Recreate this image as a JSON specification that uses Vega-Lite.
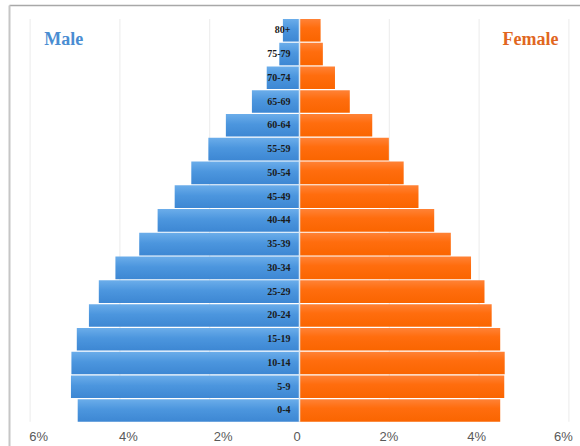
{
  "$schema": "https://vega.github.io/schema/vega-lite/v6.json",
  "width": 571,
  "height": 441,
  "padding": {"left": 9, "top": 5, "right": 0, "bottom": 0},
  "autosize": {"type": "none"},
  "background": "#ffffff",
  "config": {"view": {"stroke": null}},
  "datasets": {
    "pyramid": [
      {"age": "80+", "sex": "Male", "share": -0.37},
      {"age": "75-79", "sex": "Male", "share": -0.45},
      {"age": "70-74", "sex": "Male", "share": -0.73},
      {"age": "65-69", "sex": "Male", "share": -1.06},
      {"age": "60-64", "sex": "Male", "share": -1.64},
      {"age": "55-59", "sex": "Male", "share": -2.03},
      {"age": "50-54", "sex": "Male", "share": -2.41},
      {"age": "45-49", "sex": "Male", "share": -2.78},
      {"age": "40-44", "sex": "Male", "share": -3.16},
      {"age": "35-39", "sex": "Male", "share": -3.57},
      {"age": "30-34", "sex": "Male", "share": -4.10},
      {"age": "25-29", "sex": "Male", "share": -4.47},
      {"age": "20-24", "sex": "Male", "share": -4.69},
      {"age": "15-19", "sex": "Male", "share": -4.96},
      {"age": "10-14", "sex": "Male", "share": -5.08},
      {"age": "5-9", "sex": "Male", "share": -5.09},
      {"age": "0-4", "sex": "Male", "share": -4.94},
      {"age": "80+", "sex": "Female", "share": 0.47},
      {"age": "75-79", "sex": "Female", "share": 0.52},
      {"age": "70-74", "sex": "Female", "share": 0.79},
      {"age": "65-69", "sex": "Female", "share": 1.12},
      {"age": "60-64", "sex": "Female", "share": 1.62},
      {"age": "55-59", "sex": "Female", "share": 1.99},
      {"age": "50-54", "sex": "Female", "share": 2.32},
      {"age": "45-49", "sex": "Female", "share": 2.65},
      {"age": "40-44", "sex": "Female", "share": 3.00},
      {"age": "35-39", "sex": "Female", "share": 3.37},
      {"age": "30-34", "sex": "Female", "share": 3.82},
      {"age": "25-29", "sex": "Female", "share": 4.12},
      {"age": "20-24", "sex": "Female", "share": 4.28},
      {"age": "15-19", "sex": "Female", "share": 4.47},
      {"age": "10-14", "sex": "Female", "share": 4.57},
      {"age": "5-9", "sex": "Female", "share": 4.56},
      {"age": "0-4", "sex": "Female", "share": 4.47}
    ],
    "gridTicks": [
      {"tick": -6}, {"tick": -4}, {"tick": -2}, {"tick": 2}, {"tick": 4}, {"tick": 6}
    ],
    "centerTick": [{"tick": 0}]
  },
  "data": {"name": "pyramid"},
  "resolve": {"axis": {"x": "independent"}},
  "encoding": {
    "y": {
      "field": "age",
      "type": "nominal",
      "scale": {
        "domain": ["80+", "75-79", "70-74", "65-69", "60-64", "55-59", "50-54", "45-49", "40-44", "35-39", "30-34", "25-29", "20-24", "15-19", "10-14", "5-9", "0-4"],
        "paddingInner": 0.05,
        "paddingOuter": 0.805,
        "align": 0.366
      },
      "axis": {"orient": "left", "labels": false, "ticks": false, "grid": false, "domain": true, "domainColor": "#c6c6c6", "domainWidth": 2, "title": null}
    }
  },
  "layer": [
    {
      "data": {"name": "gridTicks"},
      "mark": {"type": "rule", "color": "#ebebeb", "strokeWidth": 1},
      "encoding": {
        "x": {
          "field": "tick",
          "type": "quantitative",
          "scale": {"domain": [-6.47, 6.247], "nice": false, "zero": false},
          "axis": {
            "orient": "bottom",
            "values": [-6, -4, -2, 0, 2, 4, 6],
            "labelExpr": "datum.value == 0 ? '0' : abs(datum.value) + '%'",
            "domain": false,
            "ticks": false,
            "grid": false,
            "title": null,
            "offset": -16,
            "labelPadding": 0,
            "labelFont": "Liberation Sans",
            "labelFontSize": 13,
            "labelColor": "#595959",
            "labelOffset": {
              "condition": [
                {"test": "datum.value == -6", "value": 8},
                {"test": "datum.value == -4", "value": 8},
                {"test": "datum.value == -2", "value": 13},
                {"test": "datum.value == 0", "value": -3},
                {"test": "datum.value == 2", "value": -1},
                {"test": "datum.value == 4", "value": -3}
              ],
              "value": -6
            }
          }
        },
        "y": {
          "datum": "80+",
          "type": "nominal",
          "bandPosition": 0,
          "axis": {"orient": "left", "labels": false, "ticks": false, "grid": false, "domain": true, "domainColor": "#c6c6c6", "domainWidth": 2, "title": null}
        },
        "y2": {"datum": "0-4", "bandPosition": 1}
      }
    },
    {
      "transform": [{"filter": "datum.sex == 'Male'"}],
      "mark": {
        "type": "bar",
        "color": {
          "gradient": "linear",
          "x1": 0, "y1": 0, "x2": 0, "y2": 1,
          "stops": [
            {"offset": 0, "color": "#6badea"},
            {"offset": 0.45, "color": "#4c96de"},
            {"offset": 1, "color": "#3d87d3"}
          ]
        }
      },
      "encoding": {
        "x": {
          "field": "share",
          "type": "quantitative",
          "scale": {"domain": [-6.47, 6.247], "nice": false, "zero": false},
          "axis": {"orient": "top", "labels": false, "ticks": false, "grid": false, "domain": true, "domainColor": "#a8a8a8", "domainWidth": 1.5, "title": null}
        },
        "x2": {"datum": 0}
      }
    },
    {
      "transform": [{"filter": "datum.sex == 'Female'"}],
      "mark": {
        "type": "bar",
        "color": {
          "gradient": "linear",
          "x1": 0, "y1": 0, "x2": 0, "y2": 1,
          "stops": [
            {"offset": 0, "color": "#ff8236"},
            {"offset": 0.4, "color": "#ff6d0e"},
            {"offset": 1, "color": "#fa6500"}
          ]
        }
      },
      "encoding": {
        "x": {"field": "share", "type": "quantitative", "axis": null},
        "x2": {"datum": 0}
      }
    },
    {
      "data": {"name": "centerTick"},
      "mark": {"type": "rule", "color": "#dfe8f0", "strokeWidth": 1.5},
      "encoding": {
        "x": {"field": "tick", "type": "quantitative", "axis": null},
        "y": {
          "datum": "80+",
          "type": "nominal",
          "bandPosition": 0,
          "axis": {"orient": "left", "labels": false, "ticks": false, "grid": false, "domain": true, "domainColor": "#c6c6c6", "domainWidth": 2, "title": null}
        },
        "y2": {"datum": "0-4", "bandPosition": 1}
      }
    },
    {
      "transform": [{"filter": "datum.sex == 'Male'"}],
      "mark": {"type": "text", "align": "right", "baseline": "middle", "dx": -9, "font": "Liberation Serif", "fontWeight": "bold", "fontSize": 10, "color": "#1a1a1a"},
      "encoding": {
        "x": {"datum": 0, "type": "quantitative", "axis": null},
        "text": {"field": "age"}
      }
    },
    {
      "transform": [{"filter": "datum.sex == 'Male' && datum.age == '80+'"}],
      "mark": {"type": "text", "align": "center", "baseline": "alphabetic", "dy": 14.7, "font": "Liberation Serif", "fontWeight": "bold", "fontSize": 18, "color": "#4a8dd2"},
      "encoding": {
        "x": {"datum": -5.25, "type": "quantitative", "axis": null},
        "text": {"field": "sex"}
      }
    },
    {
      "transform": [{"filter": "datum.sex == 'Female' && datum.age == '80+'"}],
      "mark": {"type": "text", "align": "center", "baseline": "alphabetic", "dy": 14.7, "font": "Liberation Serif", "fontWeight": "bold", "fontSize": 18, "color": "#e1671f"},
      "encoding": {
        "x": {"datum": 5.145, "type": "quantitative", "axis": null},
        "text": {"field": "sex"}
      }
    }
  ]
}
